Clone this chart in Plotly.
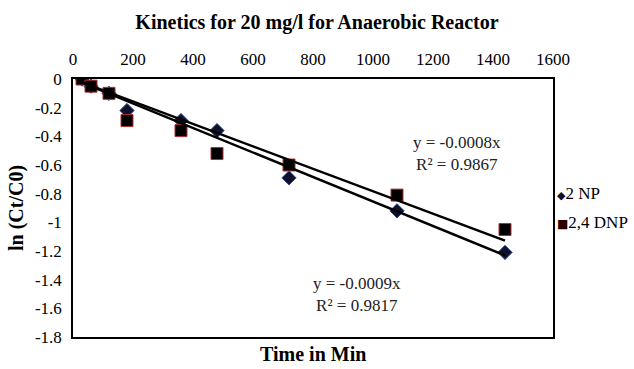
import numpy as np
import plotly.graph_objects as go

time_min = [30, 60, 120, 180, 360, 480, 720, 1080, 1440]
np_2 = [0, -0.05, -0.10, -0.22, -0.29, -0.36, -0.69, -0.92, -1.21]
dnp_24 = [0, -0.05, -0.10, -0.29, -0.36, -0.52, -0.60, -0.81, -1.05]
x_ticks = [0, 200, 400, 600, 800, 1000, 1200, 1400, 1600]
y_ticks = [0, -0.2, -0.4, -0.6, -0.8, -1, -1.2, -1.4, -1.6, -1.8]
y_tick_text = ["0", "-0.2", "-0.4", "-0.6", "-0.8", "-1", "-1.2", "-1.4", "-1.6", "-1.8"]
series_names = ["2 NP", "2,4 DNP"]

FONT = "Liberation Serif"

def slope_origin(x, y):
    x = np.asarray(x, float); y = np.asarray(y, float)
    return float((x * y).sum() / (x * x).sum())

fig = go.Figure()
fig.add_trace(go.Scatter(x=time_min, y=np_2, mode="markers", name=series_names[0],
                         marker=dict(symbol="diamond", size=11, color="#10102a",
                                     line=dict(color="#2a4a9a", width=1))))
fig.add_trace(go.Scatter(x=time_min, y=dnp_24, mode="markers", name=series_names[1],
                         marker=dict(symbol="square", size=12, color="black",
                                     line=dict(color="#b03030", width=1))))

for ys in (np_2, dnp_24):
    m = slope_origin(time_min, ys)
    xs = [time_min[0], time_min[-1]]
    fig.add_trace(go.Scatter(x=xs, y=[m * v for v in xs], mode="lines",
                             line=dict(color="black", width=2.5),
                             showlegend=False, hoverinfo="skip"))

fig.add_annotation(x=1280, y=-0.52, xref="x", yref="y",
                   text="y = -0.0008x<br>R² = 0.9867", showarrow=False,
                   font=dict(family=FONT, size=17, color="#222"))
fig.add_annotation(x=947, y=-1.504, xref="x", yref="y",
                   text="y = -0.0009x<br>R² = 0.9817", showarrow=False,
                   font=dict(family=FONT, size=17, color="#222"))

# legend (Excel style: small symbol right next to the label)
fig.add_annotation(x=1.005, y=(337 - 193) / 258, xref="paper", yref="paper",
                   xanchor="left", yanchor="middle", showarrow=False,
                   text='<span style="color:#10102a;font-family:DejaVu Sans;font-size:11px">◆</span>' + series_names[0],
                   font=dict(family=FONT, size=17, color="black"))
fig.add_annotation(x=1.005, y=(337 - 222) / 258, xref="paper", yref="paper",
                   xanchor="left", yanchor="middle", showarrow=False,
                   text='<span style="color:#2a0000;font-family:DejaVu Sans;font-size:12px">■</span>' + series_names[1],
                   font=dict(family=FONT, size=17, color="black"))

# x axis title below plot (tick labels are on top)
fig.add_annotation(x=0.5, y=(337 - 354) / 258, xref="paper", yref="paper",
                   yanchor="middle", text="<b>Time in Min</b>", showarrow=False,
                   font=dict(family=FONT, size=20, color="black"))

fig.update_layout(
    width=634, height=369,
    margin=dict(l=73, r=81, t=79, b=32, autoexpand=False),
    paper_bgcolor="white", plot_bgcolor="white",
    title=dict(text="<b>Kinetics for 20 mg/l for Anaerobic Reactor</b>",
               x=0.5, xanchor="center", y=1 - 22 / 369, yanchor="middle",
               font=dict(family=FONT, size=20, color="black")),
    font=dict(family=FONT, size=17, color="black"),
    showlegend=False,
)
fig.update_xaxes(range=[0, 1600], tickvals=x_ticks, side="top",
                 showgrid=False, zeroline=False, showline=True, linecolor="black",
                 linewidth=1.5, mirror=True, ticks="", ticklabelstandoff=5,
                 automargin=False,
                 tickfont=dict(family=FONT, size=17, color="black"))
fig.update_yaxes(range=[-1.8, 0], tickvals=y_ticks, ticktext=y_tick_text,
                 showgrid=False, zeroline=False, showline=True, linecolor="black",
                 linewidth=1.5, mirror=True, ticks="", ticklabelstandoff=6,
                 automargin=False,
                 tickfont=dict(family=FONT, size=17, color="black"),
                 title=dict(text="<b>ln (Ct/C0)</b>", standoff=6,
                            font=dict(family=FONT, size=20, color="black")))

fig.write_html("out.html", config={"displayModeBar": False},
               post_script="document.body.style.margin='0';document.body.style.overflow='hidden';")
